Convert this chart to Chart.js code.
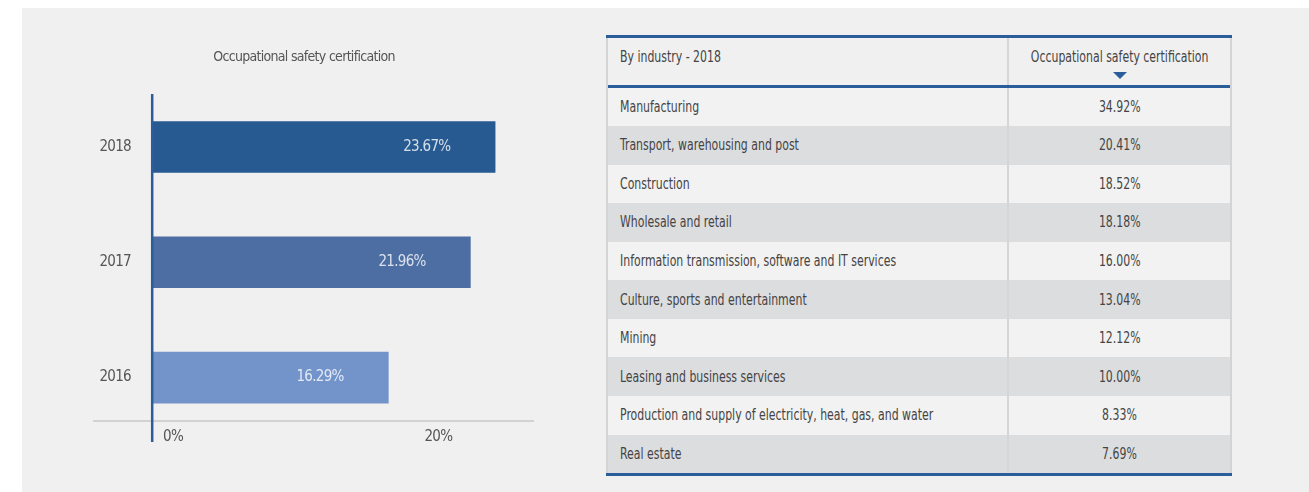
<!DOCTYPE html>
<html>
<head>
<meta charset="utf-8">
<script src="https://cdn.jsdelivr.net/npm/chart.js@4/dist/chart.umd.min.js"></script>
<style>
  html, body { margin: 0; padding: 0; background: #fff; }
  body { width: 1309px; height: 492px; position: relative; overflow: hidden;
         font-family: "Liberation Sans Narrow", "DejaVu Sans Condensed", sans-serif; color: #444; }
  #panel { position: absolute; left: 22px; top: 8px; width: 1287px; height: 484px; background: #f0f0f0; }
  #chartBox { position: absolute; left: 0; top: 0; width: 607px; height: 492px; }
  #tbl { position: absolute; left: 606px; top: 34.5px; width: 626px;
         border-top: 3px solid #2a5d9a; border-bottom: 3px solid #2a5d9a; font-size: 15px; }
  #tbl .inner { border-left: 2px solid #d4d4d4; border-right: 2px solid #d4d4d4; }
  #tbl .head { display: flex; height: 47px; border-bottom: 3px solid #2a5d9a; background: #f0f0f0; }
  #tbl .row { display: flex; height: 38.57px; align-items: center; background: #f2f2f2; }
  #tbl .row:nth-child(odd) { background: #dcdddf; }
  #tbl .c1 { width: 387px; padding-left: 12px; box-sizing: content-box; white-space: nowrap; }
  #tbl .c2 { flex: 1; text-align: center; border-left: 2px solid #d6d6d6; align-self: stretch;
             display: flex; align-items: center; justify-content: center; white-space: nowrap; }
  #tbl .head .c1 { padding-top: 10px; line-height: 18px; }
  #tbl .head .c2 { flex-direction: column; justify-content: flex-start; padding-top: 10px; line-height: 18px; }
  .t { display: inline-block; transform: scaleX(0.81); transform-origin: left center; }
  .c2 .t { transform-origin: center center; }
  .tri { width: 0; height: 0; margin-top: 6px; border-left: 7px solid transparent;
         border-right: 7px solid transparent; border-top: 7px solid #2a5d9a; }
</style>
</head>
<body>
<div id="panel"></div>
<div id="chartBox"><canvas id="certChart" width="607" height="492"></canvas></div>
<div id="tbl"><div class="inner" id="tblInner"></div></div>
<script>
// data
const years = ["2018", "2017", "2016"];
const certRates = [23.67, 21.96, 16.29];
const barColors = ["#285a92", "#4c6ea3", "#7394ca"];
const chartTitle = "Occupational safety certification";

const tableHeader = ["By industry - 2018", "Occupational safety certification"];
const industries = [
  "Manufacturing",
  "Transport, warehousing and post",
  "Construction",
  "Wholesale and retail",
  "Information transmission, software and IT services",
  "Culture, sports and entertainment",
  "Mining",
  "Leasing and business services",
  "Production and supply of electricity, heat, gas, and water",
  "Real estate"
];
const industryRates = [34.92, 20.41, 18.52, 18.18, 16.00, 13.04, 12.12, 10.00, 8.33, 7.69];

const FONT = "'Liberation Sans Narrow', 'DejaVu Sans Condensed', sans-serif";
const AXIS_BLUE = "#2a5d9a";
const TIGHT = "-0.7px"; // canvas letter spacing to mimic the condensed face

// table
const tblInner = document.getElementById("tblInner");
let html = `<div class="head"><div class="c1"><span class="t">${tableHeader[0]}</span></div>` +
  `<div class="c2"><span class="t">${tableHeader[1]}</span><div class="tri"></div></div></div>`;
industries.forEach((name, i) => {
  html += `<div class="row"><div class="c1"><span class="t">${name}</span></div>` +
    `<div class="c2"><span class="t">${industryRates[i].toFixed(2)}%</span></div></div>`;
});
tblInner.innerHTML = html;

// decorations: baseline, blue axis line, value labels
const axisLines = {
  id: "axisLines",
  beforeDraw(chart) {
    chart.ctx.letterSpacing = TIGHT;
  },
  beforeDatasetsDraw(chart) {
    const { ctx, chartArea, scales } = chart;
    const x0 = scales.x.getPixelForValue(0);
    ctx.save();
    ctx.strokeStyle = "#c9c9c9";
    ctx.lineWidth = 1.5;
    ctx.beginPath();
    ctx.moveTo(x0 - 60, chartArea.bottom - 7);
    ctx.lineTo(x0 + 381, chartArea.bottom - 7);
    ctx.stroke();
    ctx.restore();
  },
  afterDatasetsDraw(chart) {
    const { ctx, chartArea, scales } = chart;
    const x0 = scales.x.getPixelForValue(0);
    ctx.save();
    ctx.strokeStyle = AXIS_BLUE;
    ctx.lineWidth = 2.5;
    ctx.beginPath();
    ctx.moveTo(x0 - 0.8, chartArea.top + 4.7);
    ctx.lineTo(x0 - 0.8, chartArea.bottom + 14);
    ctx.stroke();

    const meta = chart.getDatasetMeta(0);
    ctx.font = "15px " + FONT;
    ctx.fillStyle = "rgba(255,255,255,0.8)";
    ctx.textAlign = "right";
    ctx.textBaseline = "middle";
    meta.data.forEach((bar, i) => {
      ctx.fillText(certRates[i].toFixed(2) + "%", bar.x - 45, bar.y);
    });
    ctx.restore();
  }
};

new Chart(document.getElementById("certChart"), {
  type: "bar",
  data: {
    datasets: [{
      data: certRates.map((v, i) => ({ x: v, y: i })),
      backgroundColor: barColors,
      borderWidth: 0,
      barPercentage: 0.448,
      categoryPercentage: 1
    }]
  },
  options: {
    indexAxis: "y",
    responsive: false,
    animation: false,
    devicePixelRatio: 1,
    layout: { padding: { left: 21, right: 20, top: 0, bottom: 0 } },
    plugins: {
      legend: { display: false },
      tooltip: { enabled: false },
      title: {
        display: true,
        text: chartTitle,
        color: "#555",
        font: { family: FONT, size: 14, weight: "normal" },
        padding: { top: 49, bottom: 23.5 }
      }
    },
    scales: {
      x: {
        min: 0,
        max: 30,
        grid: { display: false, drawTicks: false },
        border: { display: false },
        ticks: {
          stepSize: 20,
          includeBounds: false,
          align: "inner",
          labelOffset: 10,
          padding: 0,
          color: "#555",
          font: { family: FONT, size: 15 },
          callback: (v) => v + "%"
        },
        afterFit: (s) => { s.height = 64; }
      },
      y: {
        type: "linear",
        reverse: true,
        offset: false,
        min: -0.5,
        max: 2.437,
        grid: { display: false, drawTicks: false, offset: false },
        border: { display: false },
        ticks: {
          stepSize: 1,
          includeBounds: false,
          padding: 22,
          color: "#555",
          font: { family: FONT, size: 15 },
          callback: (v) => years[v] ?? ""
        },
        afterFit: (s) => { s.width = 132; }
      }
    }
  },
  plugins: [axisLines]
});
</script>
</body>
</html>
